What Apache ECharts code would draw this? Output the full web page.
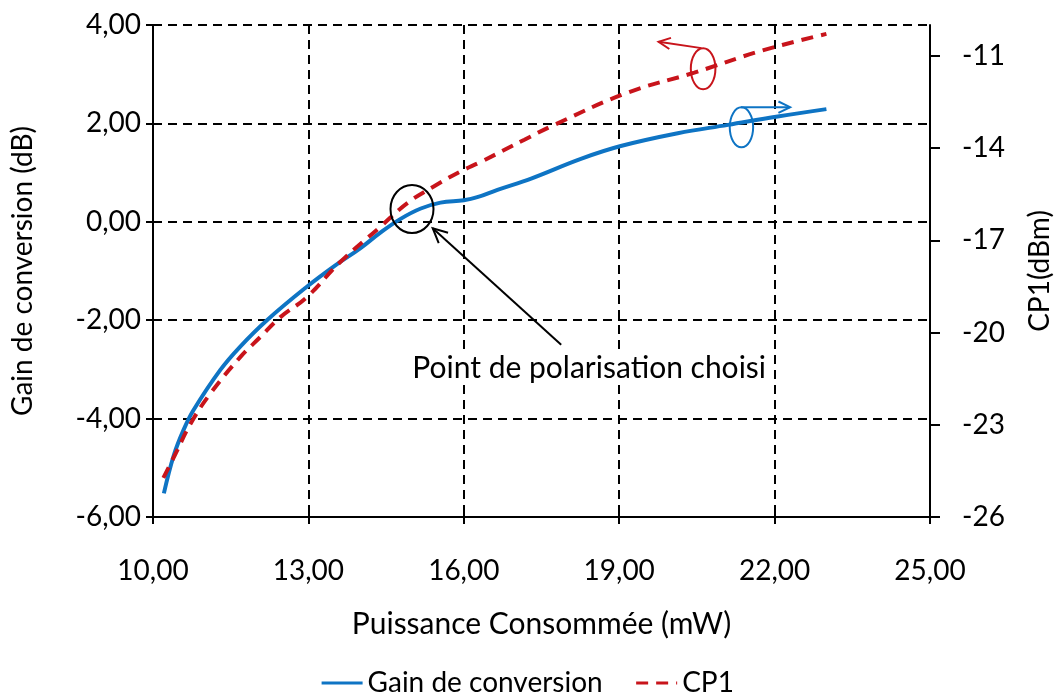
<!DOCTYPE html>
<html><head><meta charset="utf-8">
<script src="https://cdn.jsdelivr.net/npm/echarts@6/dist/echarts.min.js"></script>
<style>html,body{margin:0;padding:0;background:#fff}#c{width:1054px;height:695px}</style>
</head><body><div id="c"></div>
<script>
// Data
const gainX = [10.21, 10.40, 10.59, 10.78, 11.30, 11.68, 12.20, 12.97, 13.50, 14.00, 14.39, 14.78, 15.17, 15.55, 16.00, 16.26, 16.65, 17.30, 18.26, 19.03, 20.13, 21.10, 22.06, 23.00];
const gainY = [-5.52, -4.75, -4.23, -3.83, -3.01, -2.54, -2.00, -1.32, -0.90, -0.54, -0.22, 0.06, 0.27, 0.39, 0.44, 0.50, 0.65, 0.88, 1.28, 1.54, 1.80, 1.97, 2.14, 2.29];
const cp1X = [10.20, 10.43, 10.72, 11.10, 11.68, 12.07, 12.46, 12.97, 13.62, 14.39, 14.91, 15.42, 15.94, 16.33, 17.17, 17.68, 19.16, 20.45, 21.74, 23.00];
const cp1Y = [-24.73, -23.96, -22.98, -22.00, -20.81, -20.15, -19.50, -18.85, -17.70, -16.56, -15.79, -15.25, -14.76, -14.45, -13.73, -13.30, -12.20, -11.55, -10.84, -10.29];
const xTicks = [10, 13, 16, 19, 22, 25];
const leftTicks = [-6, -4, -2, 0, 2, 4];
const rightTicks = [-26, -23, -20, -17, -14, -11];
const seriesNames = ['Gain de conversion', 'CP1'];

const FONT = 'Lato';
const FS = 28;
const FSB = 30;
const fmt2 = v => v.toFixed(2).replace('.', ',');
const BLUE = '#0E74C4', RED = '#C8141B';

const chart = echarts.init(document.getElementById('c'), null, {renderer: 'canvas'});
const grid = {left: 153, right: 124, top: 25, bottom: 178, containLabel: false, outerBoundsMode: 'none'};
const baseX = {type: 'value', min: 10, max: 25, interval: 3, gridIndex: 0};
const baseL = {type: 'value', min: -6, max: 4, interval: 2, position: 'left'};
const gridLine = {show: true, showMinLine: true, showMaxLine: true, lineStyle: {color: '#000', width: 2, type: [9, 6]}};
chart.setOption({
  animation: false,
  textStyle: {fontFamily: FONT},
  grid: grid,
  legend: {
    bottom: -7, left: 'center', itemWidth: 41, itemHeight: 14, itemGap: 32,
    itemStyle: {opacity: 0},
    lineStyle: {width: 3},
    textStyle: {fontFamily: FONT, fontSize: FS, color: '#000'},
    data: seriesNames
  },
  xAxis: [
    Object.assign({}, baseX, {
      name: 'Puissance Consommée (mW)', nameLocation: 'middle', nameGap: 92,
      nameTextStyle: {fontFamily: FONT, fontSize: FSB, color: '#000'},
      axisLine: {onZero: false, lineStyle: {color: '#000', width: 2}},
      axisTick: {show: true, length: 7, lineStyle: {color: '#000', width: 2}},
      axisLabel: {color: '#000', fontFamily: FONT, fontSize: FS, margin: 40, formatter: fmt2},
      splitLine: gridLine
    }),
    Object.assign({}, baseX, {
      position: 'bottom',
      axisLine: {show: false, onZero: false},
      axisTick: {show: true, inside: true, length: 7, lineStyle: {color: '#000', width: 2}},
      axisLabel: {show: false}, splitLine: {show: false}
    })
  ],
  yAxis: [
    Object.assign({}, baseL, {
      name: 'Gain de conversion (dB)', nameLocation: 'middle', nameGap: 116, nameRotate: 90,
      nameTextStyle: {fontFamily: FONT, fontSize: FS, color: '#000'},
      axisLine: {show: true, onZero: false, lineStyle: {color: '#000', width: 2}},
      axisTick: {show: true, length: 7, lineStyle: {color: '#000', width: 2}},
      axisLabel: {color: '#000', fontFamily: FONT, fontSize: FS, margin: 12, formatter: fmt2},
      splitLine: gridLine
    }),
    {
      type: 'value', min: -26, max: -10, position: 'right',
      name: 'CP1(dBm)', nameLocation: 'middle', nameGap: 96, nameRotate: 90,
      nameTextStyle: {fontFamily: FONT, fontSize: FS, color: '#000'},
      axisLine: {show: true, onZero: false, lineStyle: {color: '#000', width: 2}},
      axisTick: {show: true, length: 10, customValues: rightTicks, lineStyle: {color: '#000', width: 2}},
      axisLabel: {color: '#000', fontFamily: FONT, fontSize: FS, margin: 32, customValues: rightTicks, formatter: v => String(v)},
      splitLine: {show: false}
    },
    Object.assign({}, baseL, {
      axisLine: {show: false, onZero: false},
      axisTick: {show: true, inside: true, length: 7, lineStyle: {color: '#000', width: 2}},
      axisLabel: {show: false}, splitLine: {show: false}
    })
  ],
  series: [
    {
      name: seriesNames[0], type: 'line', xAxisIndex: 0, yAxisIndex: 0,
      data: gainX.map((x, i) => [x, gainY[i]]),
      smooth: 0.4, showSymbol: false, symbol: 'none',
      lineStyle: {color: BLUE, width: 4}, itemStyle: {color: BLUE}
    },
    {
      name: seriesNames[1], type: 'line', xAxisIndex: 0, yAxisIndex: 1,
      data: cp1X.map((x, i) => [x, cp1Y[i]]),
      smooth: 0.4, showSymbol: false, symbol: 'none',
      lineStyle: {color: RED, width: 4, type: [12, 8]}, itemStyle: {color: RED}
    }
  ]
});

// Annotations positioned in data coordinates (x, left-axis value)
function P(x, y) { return chart.convertToPixel({xAxisIndex: 0, yAxisIndex: 0}, [x, y]); }
function arrowHead(tip, from, len, col) {
  const dx = tip[0] - from[0], dy = tip[1] - from[1];
  const L = Math.hypot(dx, dy), ux = dx / L, uy = dy / L;
  const a = 0.45;
  const p1 = [tip[0] - len * (ux * Math.cos(a) - uy * Math.sin(a)), tip[1] - len * (uy * Math.cos(a) + ux * Math.sin(a))];
  const p2 = [tip[0] - len * (ux * Math.cos(-a) - uy * Math.sin(-a)), tip[1] - len * (uy * Math.cos(-a) + ux * Math.sin(-a))];
  return {type: 'polyline', shape: {points: [p1, tip, p2]}, style: {stroke: col, lineWidth: 2, fill: null}};
}
const cC = P(15.0, 0.26);
const aTail = P(17.88, -2.50), aTip = P(15.40, -0.13);
const tC = P(18.42, -2.97);
const rC = P(20.62, 3.11), rS = P(20.59, 3.53), rT = P(19.76, 3.66);
const bC = P(21.36, 1.92), bS = P(21.35, 2.33), bT = P(22.30, 2.33);
chart.setOption({graphic: [
  {type: 'ellipse', shape: {cx: cC[0], cy: cC[1], rx: 21.5, ry: 24}, style: {stroke: '#000', lineWidth: 2, fill: null}, z: 10},
  {type: 'line', shape: {x1: aTail[0], y1: aTail[1], x2: aTip[0], y2: aTip[1]}, style: {stroke: '#000', lineWidth: 2}, z: 10},
  Object.assign(arrowHead(aTip, aTail, 16, '#000'), {z: 10}),
  {type: 'text', x: tC[0], y: tC[1], style: {text: 'Point de polarisation choisi', fill: '#000', font: FSB + 'px ' + FONT, align: 'center', verticalAlign: 'middle', backgroundColor: '#fff', padding: [2, 4]}, z: 9},
  {type: 'ellipse', shape: {cx: rC[0], cy: rC[1], rx: 12.3, ry: 20.5}, style: {stroke: RED, lineWidth: 2, fill: null}, z: 10},
  {type: 'line', shape: {x1: rS[0], y1: rS[1], x2: rT[0], y2: rT[1]}, style: {stroke: RED, lineWidth: 2}, z: 10},
  Object.assign(arrowHead(rT, rS, 13, RED), {z: 10}),
  {type: 'ellipse', shape: {cx: bC[0], cy: bC[1], rx: 11.7, ry: 20}, style: {stroke: BLUE, lineWidth: 2, fill: null}, z: 10},
  {type: 'line', shape: {x1: bS[0], y1: bS[1], x2: bT[0], y2: bT[1]}, style: {stroke: BLUE, lineWidth: 2}, z: 10},
  Object.assign(arrowHead(bT, bS, 13, BLUE), {z: 10})
]});
</script></body></html>
